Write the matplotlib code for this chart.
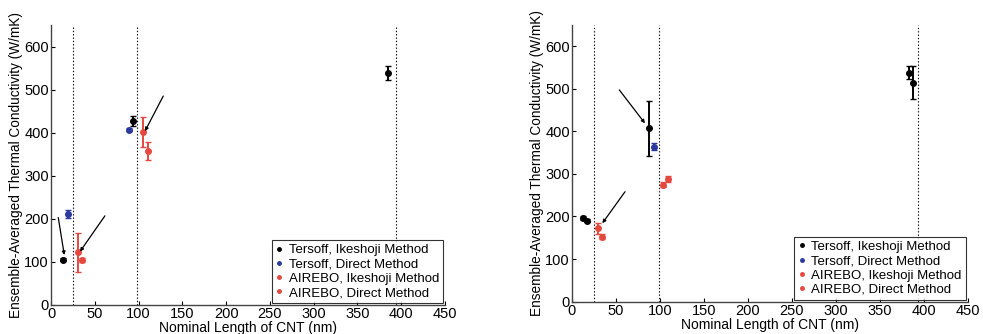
import matplotlib
matplotlib.use("Agg")
import matplotlib.pyplot as plt

plt.rcParams['font.family'] = ['Liberation Sans', 'DejaVu Sans']

# nominal CNT lengths (nm), marked by dotted lines
cnt_lengths = [24.6, 98.4, 393.6]

labels = ["Tersoff, Ikeshoji Method", "Tersoff, Direct Method",
          "AIREBO, Ikeshoji Method", "AIREBO, Direct Method"]
colors = ["black", "#2b3a9c", "#e5483f", "#e5483f"]

# left plot
left_x = [[14, 93.2, 385], [19.7, 89.4], [31, 104.7], [35, 110.4]]
left_y = [[105, 427, 539], [211, 407], [122, 401], [105, 357]]
left_err = [[4, 12, 16], [10, 4], [45, 35], [5, 21]]
left_arrows = [((8.3, 203), (15.2, 116)),
               ((61.6, 207), (33.1, 124)),
               ((128.2, 485), (107.3, 403.5))]

# right plot
right_x = [[12.9, 17.6, 87.3, 383.7, 388.3], [93.3], [29.5, 104], [33.8, 109]]
right_y = [[196, 190, 407, 537, 514], [364], [172, 274], [152, 288]]
right_err = [[4, 4, 64, 15, 39], [8], [12, 6], [6, 8]]
right_arrows = [((60.3, 258), (34.5, 184)),
                ((53.8, 497), (83, 418.6))]


def draw(ax, xs, ys, errs, arrows):
    for xv in cnt_lengths:
        ax.axvline(xv, color="black", ls=(0, (1.2, 1.8)), lw=0.8, zorder=1)
    for i in range(4):
        ax.errorbar(xs[i], ys[i], yerr=errs[i], fmt="o", color=colors[i],
                    ecolor=colors[i], ms=4, elinewidth=1.4, capsize=2.5,
                    capthick=1.0, zorder=3)
        ax.plot([], [], "o", color=colors[i], ms=2.5, label=labels[i])
    for start, end in arrows:
        ax.annotate("", xy=end, xytext=start,
                    arrowprops=dict(arrowstyle="-|>", color="black", lw=0.9,
                                    mutation_scale=5, shrinkA=0, shrinkB=0),
                    zorder=4)
    ax.set_xlim(0, 450)
    ax.set_ylim(0, 650)
    ax.set_xticks(range(0, 451, 50))
    ax.set_yticks(range(0, 601, 100))
    ax.tick_params(direction="in", length=3, labelsize=10.5, pad=1.5, width=0.8)
    for s in ["top", "right"]:
        ax.spines[s].set_visible(False)
    for s in ["left", "bottom"]:
        ax.spines[s].set_linewidth(1.0)
        ax.spines[s].set_color("#444444")
    ax.set_xlabel("Nominal Length of CNT (nm)", fontsize=10, labelpad=0)
    ax.set_ylabel("Ensemble-Averaged Thermal Conductivity (W/mK)", fontsize=9.8,
                  labelpad=1)
    leg = ax.legend(loc="lower right", fontsize=9.5, frameon=True, fancybox=False,
                    borderaxespad=0.15, handlelength=0.6, handletextpad=0.4,
                    borderpad=0.3, labelspacing=0.15)
    leg.get_frame().set_edgecolor("black")
    leg.get_frame().set_linewidth(0.8)


fig = plt.figure(figsize=(9.83, 3.34), dpi=100)
ax1 = fig.add_axes([51 / 983, 29 / 334, 394 / 983, 280 / 334])
ax2 = fig.add_axes([572 / 983, 32.3 / 334, 395.6 / 983, 277 / 334])
draw(ax1, left_x, left_y, left_err, left_arrows)
draw(ax2, right_x, right_y, right_err, right_arrows)

fig.savefig("out.png", dpi=100)
